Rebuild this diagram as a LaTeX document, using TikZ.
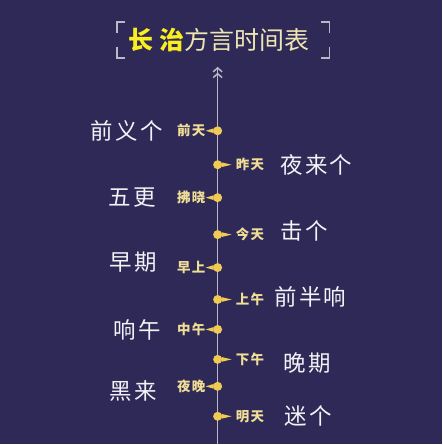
\documentclass[tikz,border=0pt]{standalone}
\usepackage{fontspec}
\setmainfont{Noto Sans CJK SC}
\newfontfamily\spacedfont[LetterSpace=10]{Noto Sans CJK SC}
\usepackage{tikz}
\usetikzlibrary{arrows.meta,positioning}
\definecolor{bgnavy}{RGB}{47,41,88}
\definecolor{dotgold}{RGB}{240,203,84}
\definecolor{tagcream}{RGB}{240,222,150}
\definecolor{titleyellow}{RGB}{250,238,30}
\definecolor{titlecream}{RGB}{238,230,178}
\definecolor{axisgray}{RGB}{185,184,196}

\begin{document}
\begin{tikzpicture}[x=1pt,y=-1pt,
  word/.style={text=white!94!bgnavy,font=\spacedfont\fontsize{22.5}{22.5}\selectfont,inner sep=0pt},
  tag/.style={text=tagcream,font=\spacedfont\bfseries\fontsize{13.5}{13.5}\selectfont,inner sep=0pt},
  golddot/.style={circle,fill=dotgold,minimum size=9pt,inner sep=0pt},
  bracketline/.style={axisgray,line width=1.4pt}]
  \fill[bgnavy] (0,0) rectangle (443,445);
  % title
  \node[anchor=west,inner sep=0pt] (title) at (129,40)
    {\fontsize{25}{25}\selectfont\textcolor{titleyellow}{\bfseries 长\hspace{6pt}治}\textcolor{titlecream}{方言时间表}};
  \draw[bracketline] (125,22) -- (117,22) -- (117,33);
  \draw[bracketline] (125,58) -- (117,58) -- (117,47);
  \draw[bracketline] (322,22) -- (330,22) -- (330,33);
  \draw[bracketline] (322,58) -- (330,58) -- (330,47);
  % axis
  \coordinate (axistop) at (218,67);
  \coordinate (axisbot) at (218,445);
  \draw[axisgray,line width=1.5pt,-{Straight Barb[length=4pt,width=9pt]Straight Barb[length=4pt,width=9pt]}]
    (axisbot) -- (axistop);
  % markers
  \node[golddot] (d1) at (218,131) {};
  \node[golddot] (d2) at (218,165) {};
  \node[golddot] (d3) at (218,198) {};
  \node[golddot] (d4) at (218,235) {};
  \node[golddot] (d5) at (218,268) {};
  \node[golddot] (d6) at (218,300) {};
  \node[golddot] (d7) at (218,330) {};
  \node[golddot] (d8) at (218,360) {};
  \node[golddot] (d9) at (218,387) {};
  \node[golddot] (d10) at (218,417) {};
  \foreach \d in {d1,d3,d5,d7,d9}{
    \coordinate (\d tip) at ([xshift=-12pt]\d.center);
    \fill[dotgold] (\d.150) -- (\d tip) -- (\d.210) -- cycle;
  }
  \foreach \d in {d2,d4,d6,d8,d10}{
    \coordinate (\d tip) at ([xshift=14pt]\d.center);
    \fill[dotgold] (\d.30) -- (\d tip) -- (\d.-30) -- cycle;
  }
  % left side
  \node[tag,left=0pt of d1tip] (t1) {前天};
  \node[word,left=14pt of t1] (w1) {前义个};
  \node[tag,left=0pt of d3tip] (t3) {拂晓};
  \node[word,left=21pt of t3] (w3) {五更};
  \node[tag,left=0pt of d5tip] (t5) {早上};
  \node[word,left=20pt of t5,yshift=5pt] (w5) {早期};
  \node[tag,left=0pt of d7tip] (t7) {中午};
  \node[word,left=16pt of t7] (w7) {响午};
  \node[tag,left=0pt of d9tip] (t9) {夜晚};
  \node[word,left=20pt of t9,yshift=-5pt] (w9) {黑来};
  % right side
  \node[tag,right=4pt of d2tip] (t2) {昨天};
  \node[word,right=16pt of t2] (w2) {夜来个};
  \node[tag,right=4pt of d4tip] (t4) {今天};
  \node[word,right=16pt of t4,yshift=4pt] (w4) {击个};
  \node[tag,right=4pt of d6tip] (t6) {上午};
  \node[word,right=10pt of t6,yshift=3pt] (w6) {前半响};
  \node[tag,right=4pt of d8tip] (t8) {下午};
  \node[word,right=19pt of t8,yshift=-4pt] (w8) {晚期};
  \node[tag,right=4pt of d10tip] (t10) {明天};
  \node[word,right=20pt of t10] (w10) {迷个};
\end{tikzpicture}
\end{document}
